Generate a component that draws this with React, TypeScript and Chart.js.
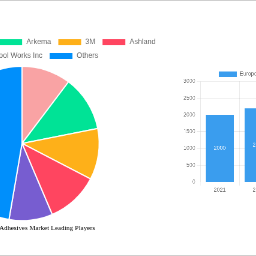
import React, { useEffect, useRef } from 'react';
import { Chart, registerables } from 'chart.js';

Chart.register(...registerables);

// ---- Pie chart data ----
const playerNames = ['Henkel AG & Co. KGaA', 'Arkema', '3M', 'Ashland', 'Illinois Tool Works Inc', 'Others'];
const playerShares = [10.3, 11.6, 10.7, 11.0, 9.1, 47.3];
const playerColors = ['#F9A3A4', '#00E396', '#FEB019', '#FF4560', '#775DD0', '#008FFB'];
const pieTitle = 'Europe Structural Adhesives Market Leading Players';

// ---- Bar chart data ----
const years = ['2021', '2022', '2023'];
const europeValues = [2000, 2200, 2420];
const barSeriesName = 'Europe Revenue';
const barColor = '#3A9DEE';
const yTickMax = 3000;
const yTickStep = 500;

const valueLabels = {
  id: 'valueLabels',
  afterDatasetsDraw(chart: any) {
    const ctx = chart.ctx;
    chart.data.datasets.forEach((ds: any, i: number) => {
      const meta = chart.getDatasetMeta(i);
      meta.data.forEach((bar: any, j: number) => {
        const v = ds.data[j];
        ctx.save();
        ctx.fillStyle = 'rgba(255,255,255,0.85)';
        ctx.font = "12px 'Helvetica Neue', Helvetica, Arial, sans-serif";
        ctx.textAlign = 'center';
        ctx.textBaseline = 'middle';
        ctx.fillText(String(v), bar.x, (bar.y + bar.base) / 2);
        ctx.restore();
      });
    });
  },
};

function PieChart() {
  const ref = useRef<HTMLCanvasElement>(null);
  useEffect(() => {
    const chart = new Chart(ref.current as HTMLCanvasElement, {
      type: 'pie',
      data: {
        labels: playerNames,
        datasets: [
          {
            data: playerShares,
            backgroundColor: playerColors,
            borderColor: '#ffffff',
            borderWidth: 2,
          },
        ],
      },
      options: {
        responsive: false,
        animation: false,
        devicePixelRatio: 1,
        plugins: {
          legend: { position: 'top', labels: { padding: 11 } },
          title: {
            display: true,
            position: 'bottom',
            text: pieTitle,
            color: '#000',
            padding: { top: 5, bottom: 15 },
            font: { family: "'Liberation Serif', 'Times New Roman', serif", size: 11.4, weight: 'normal' },
          },
          tooltip: { enabled: false },
        },
      },
    } as any);
    return () => chart.destroy();
  }, []);
  return <canvas ref={ref} width={550} height={349} />;
}

function BarChart() {
  const ref = useRef<HTMLCanvasElement>(null);
  useEffect(() => {
    const chart = new Chart(ref.current as HTMLCanvasElement, {
      type: 'bar',
      data: {
        labels: years,
        datasets: [
          {
            label: barSeriesName,
            data: europeValues,
            backgroundColor: barColor,
            borderColor: barColor,
          },
        ],
      },
      options: {
        responsive: false,
        animation: false,
        devicePixelRatio: 1,
        scales: {
          y: {
            beginAtZero: true,
            max: yTickMax,
            ticks: { stepSize: yTickStep, callback: (v: any) => String(v) },
          },
        },
        plugins: {
          legend: { position: 'top' },
          tooltip: { enabled: false },
        },
      },
      plugins: [valueLabels],
    } as any);
    return () => chart.destroy();
  }, []);
  return <canvas ref={ref} width={300} height={284} />;
}

export default function App() {
  return (
    <div
      style={{
        position: 'fixed',
        left: 0,
        top: 0,
        width: 256,
        height: 256,
        overflow: 'hidden',
        background: '#fff',
      }}
    >
      <div style={{ position: 'absolute', left: 0, top: 0, width: 256, height: 1, background: '#cfcfcf' }} />
      <div style={{ position: 'absolute', left: 0, top: 255, width: 256, height: 1, background: '#cfcfcf' }} />
      <div
        style={{
          position: 'absolute',
          left: -143,
          top: 32,
          width: 550,
          height: 349,
          transform: 'scale(0.6)',
          transformOrigin: '0 0',
        }}
      >
        <PieChart />
      </div>
      <div
        style={{
          position: 'absolute',
          left: 182,
          top: 67,
          width: 300,
          height: 284,
          transform: 'scale(0.45)',
          transformOrigin: '0 0',
        }}
      >
        <BarChart />
      </div>
    </div>
  );
}
